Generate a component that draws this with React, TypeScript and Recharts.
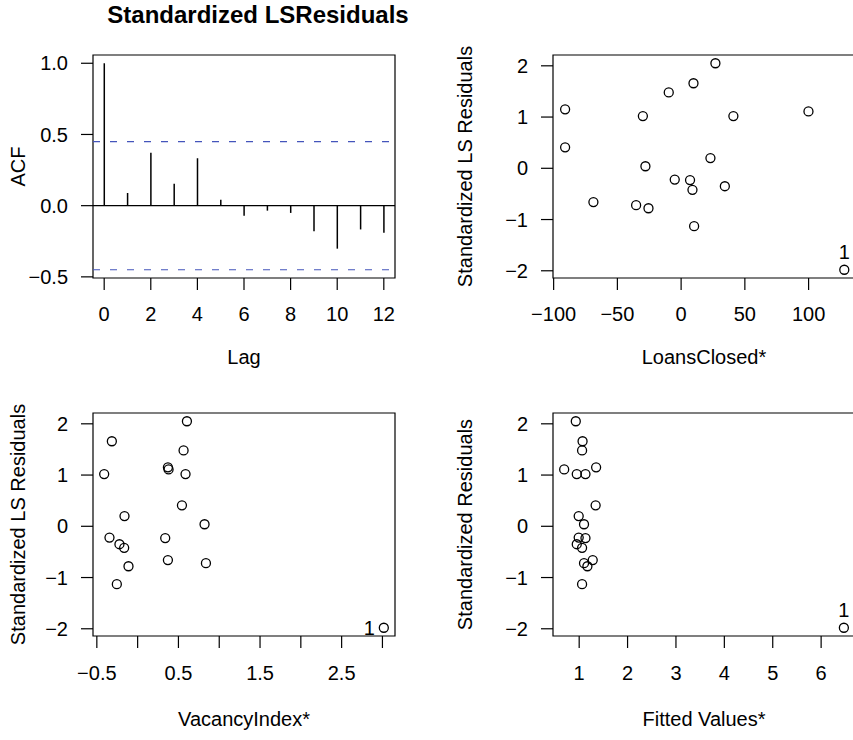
import { Bar, ComposedChart, ReferenceArea, ReferenceLine, Scatter, ScatterChart, XAxis, YAxis } from 'recharts';

const FONT = '"Liberation Sans", Arial, Helvetica, sans-serif';

// ACF of the standardized residuals
const lags = [0, 1, 2, 3, 4, 5, 6, 7, 8, 9, 10, 11, 12];
const acfValues = [1.0, 0.089, 0.372, 0.154, 0.333, 0.042, -0.07, -0.035, -0.051, -0.179, -0.302, -0.167, -0.19];
const ciBound = 0.45;

// residuals and the three x variables, one entry per observation
const residuals = [-1.98, 2.05, 1.66, 1.48, 1.15, 1.11, 1.02, 1.02, 0.41, 0.2, 0.04, -0.22, -0.23, -0.35, -0.42, -0.66, -0.72, -0.78, -1.13];
const pointLabels = ['1', '', '', '', '', '', '', '', '', '', '', '', '', '', '', '', '', '', ''];
const loansClosed = [128, 26.9, 9.7, -9.7, -91, 99.9, -30, 41, -91, 23, -28, -5, 7, 34.3, 8.9, -68.8, -35.3, -25.6, 10.2];
const vacancyIndex = [3.017, 0.604, -0.316, 0.563, 0.371, 0.379, -0.41, 0.587, 0.543, -0.161, 0.82, -0.345, 0.338, -0.223, -0.165, 0.371, 0.837, -0.112, -0.255];
const fittedValues = [6.47, 0.93, 1.07, 1.06, 1.35, 0.69, 0.95, 1.13, 1.34, 0.99, 1.1, 0.99, 1.13, 0.95, 1.06, 1.28, 1.1, 1.17, 1.06];

// ticks
const acfTicks = [-0.5, 0, 0.5, 1];
const lagTicks = [0, 2, 4, 6, 8, 10, 12];
const residTicks = [-2, -1, 0, 1, 2];
const loansTicks = [-100, -50, 0, 50, 100];
const vacancyTicks = [-0.5, 0, 0.5, 1, 1.5, 2, 2.5, 3];
const vacancyTickLabels = ['\u22120.5', '', '0.5', '', '1.5', '', '2.5', ''];
const fittedTicks = [1, 2, 3, 4, 5, 6];

const fmt = (digits: number) => (v: number) => (v < 0 ? '\u2212' : '') + Math.abs(v).toFixed(digits);

const tickStyle = { fill: '#000', fontSize: 20, fontFamily: FONT };
const lineStyle = { stroke: '#000', strokeWidth: 1.2 };
const labelStyle = { fill: '#000', fontSize: 20, fontFamily: FONT, textAnchor: 'middle' as const };

const PLOT_W = 302;
const PLOT_H = 223;
const RES_DOMAIN: [number, number] = [-2.141, 2.211];

const makeDot = (side: 'top' | 'left') => (p: any) => {
  const lab = p.payload?.lab;
  return (
    <g>
      <circle cx={p.cx} cy={p.cy} r={4.5} fill="none" stroke="#000" strokeWidth={1.3} />
      {lab ? (
        side === 'top' ? (
          <text x={p.cx} y={p.cy - 11} textAnchor="middle" fontSize={20} fontFamily={FONT} fill="#000">{lab}</text>
        ) : (
          <text x={p.cx - 9} y={p.cy + 7} textAnchor="end" fontSize={20} fontFamily={FONT} fill="#000">{lab}</text>
        )
      ) : null}
    </g>
  );
};

function AcfPanel() {
  const data = lags.map((lag, i) => ({ lag, acf: acfValues[i] }));
  const xDomain: [number, number] = [-0.48, 12.48];
  const yDomain: [number, number] = [-0.508, 1.058];
  return (
    <div style={{ position: 'absolute', left: 0, top: 0 }}>
      <ComposedChart width={93 + PLOT_W + 31} height={370} data={data} margin={{ top: 55, right: 31, bottom: 0, left: 0 }}>
        <XAxis dataKey="lag" type="number" domain={xDomain} ticks={lagTicks} allowDataOverflow axisLine={false}
          tickLine={lineStyle} tickSize={12} tickMargin={17} tick={tickStyle} height={370 - 55 - PLOT_H} interval={0}
          label={{ value: 'Lag', position: 'insideTop', offset: 72, style: labelStyle }} />
        <YAxis type="number" domain={yDomain} ticks={acfTicks} allowDataOverflow axisLine={false} width={93}
          tickLine={lineStyle} tickSize={12} tickMargin={13} tick={tickStyle} tickFormatter={fmt(1)} interval={0}
          label={{ value: 'ACF', angle: -90, position: 'insideLeft', offset: 18, style: labelStyle }} />
        <ReferenceArea x1={xDomain[0]} x2={xDomain[1]} y1={yDomain[0]} y2={yDomain[1]} fill="none" fillOpacity={0} stroke="#000" strokeWidth={1.2} ifOverflow="visible" />
        <ReferenceLine y={0} stroke="#000" strokeWidth={1.2} />
        <ReferenceLine y={ciBound} stroke="#4455bb" strokeWidth={1.2} strokeDasharray="7 10" />
        <ReferenceLine y={-ciBound} stroke="#4455bb" strokeWidth={1.2} strokeDasharray="7 10" />
        <Bar dataKey="acf" fill="#000" barSize={1.5} isAnimationActive={false} />
      </ComposedChart>
    </div>
  );
}

type ResidProps = {
  left: number;
  top: number;
  col: 'l' | 'r';
  row: 't' | 'b';
  xs: number[];
  xDomain: [number, number];
  xTicks: number[];
  xFormat: (v: number, i: number) => string;
  xTitle: string;
  yTitle: string;
  labelSide: 'top' | 'left';
};

function ResidPanel({ left, top, col, row, xs, xDomain, xTicks, xFormat, xTitle, yTitle, labelSide }: ResidProps) {
  const data = residuals.map((y, i) => ({ x: xs[i], y, lab: pointLabels[i] }));
  const yw = col === 'l' ? 93 : 127;
  const rightM = col === 'l' ? 31 : 11;
  const h = row === 't' ? 370 : 382;
  return (
    <div style={{ position: 'absolute', left, top }}>
      <ScatterChart width={yw + PLOT_W + rightM} height={h} margin={{ top: 55, right: rightM, bottom: 0, left: 0 }}>
        <XAxis dataKey="x" type="number" domain={xDomain} ticks={xTicks} allowDataOverflow axisLine={false}
          tickLine={lineStyle} tickSize={12} tickMargin={row === 't' ? 17 : 18} tick={tickStyle} tickFormatter={xFormat}
          height={h - 55 - PLOT_H} interval={0}
          label={{ value: xTitle, position: 'insideTop', offset: row === 't' ? 72 : 76, style: labelStyle }} />
        <YAxis dataKey="y" type="number" domain={RES_DOMAIN} ticks={residTicks} allowDataOverflow axisLine={false} width={yw}
          tickLine={lineStyle} tickSize={12} tickMargin={13} tick={tickStyle} tickFormatter={fmt(0)} interval={0}
          label={{ value: yTitle, angle: -90, position: 'insideLeft', offset: col === 'l' ? 18 : 39, style: labelStyle }} />
        <ReferenceArea x1={xDomain[0]} x2={xDomain[1]} y1={RES_DOMAIN[0]} y2={RES_DOMAIN[1]} fill="none" fillOpacity={0} stroke="#000" strokeWidth={1.2} ifOverflow="visible" />
        <Scatter data={data} shape={makeDot(labelSide)} isAnimationActive={false} />
      </ScatterChart>
    </div>
  );
}

export default function App() {
  return (
    <div style={{ position: 'absolute', left: 0, top: 0, width: 853, height: 740, overflow: 'hidden', background: '#fff', fontFamily: FONT }}>
      <svg width={853} height={40} style={{ position: 'absolute', left: 0, top: 0 }}>
        <text x={258} y={23} textAnchor="middle" fontSize={24} fontWeight="bold" fontFamily={FONT} fill="#000">Standardized LSResiduals</text>
      </svg>
      <AcfPanel />
      <ResidPanel left={426} top={0} col="r" row="t" xs={loansClosed} xDomain={[-100.5, 136.4]} xTicks={loansTicks}
        xFormat={fmt(0)} xTitle="LoansClosed*" yTitle="Standardized LS Residuals" labelSide="top" />
      <ResidPanel left={0} top={358} col="l" row="b" xs={vacancyIndex} xDomain={[-0.547, 3.154]} xTicks={vacancyTicks}
        xFormat={(v) => vacancyTickLabels[vacancyTicks.indexOf(v)] ?? ''} xTitle="VacancyIndex*" yTitle="Standardized LS Residuals" labelSide="left" />
      <ResidPanel left={426} top={358} col="r" row="b" xs={fittedValues} xDomain={[0.459, 6.7]} xTicks={fittedTicks}
        xFormat={fmt(0)} xTitle="Fitted Values*" yTitle="Standardized Residuals" labelSide="top" />
    </div>
  );
}
